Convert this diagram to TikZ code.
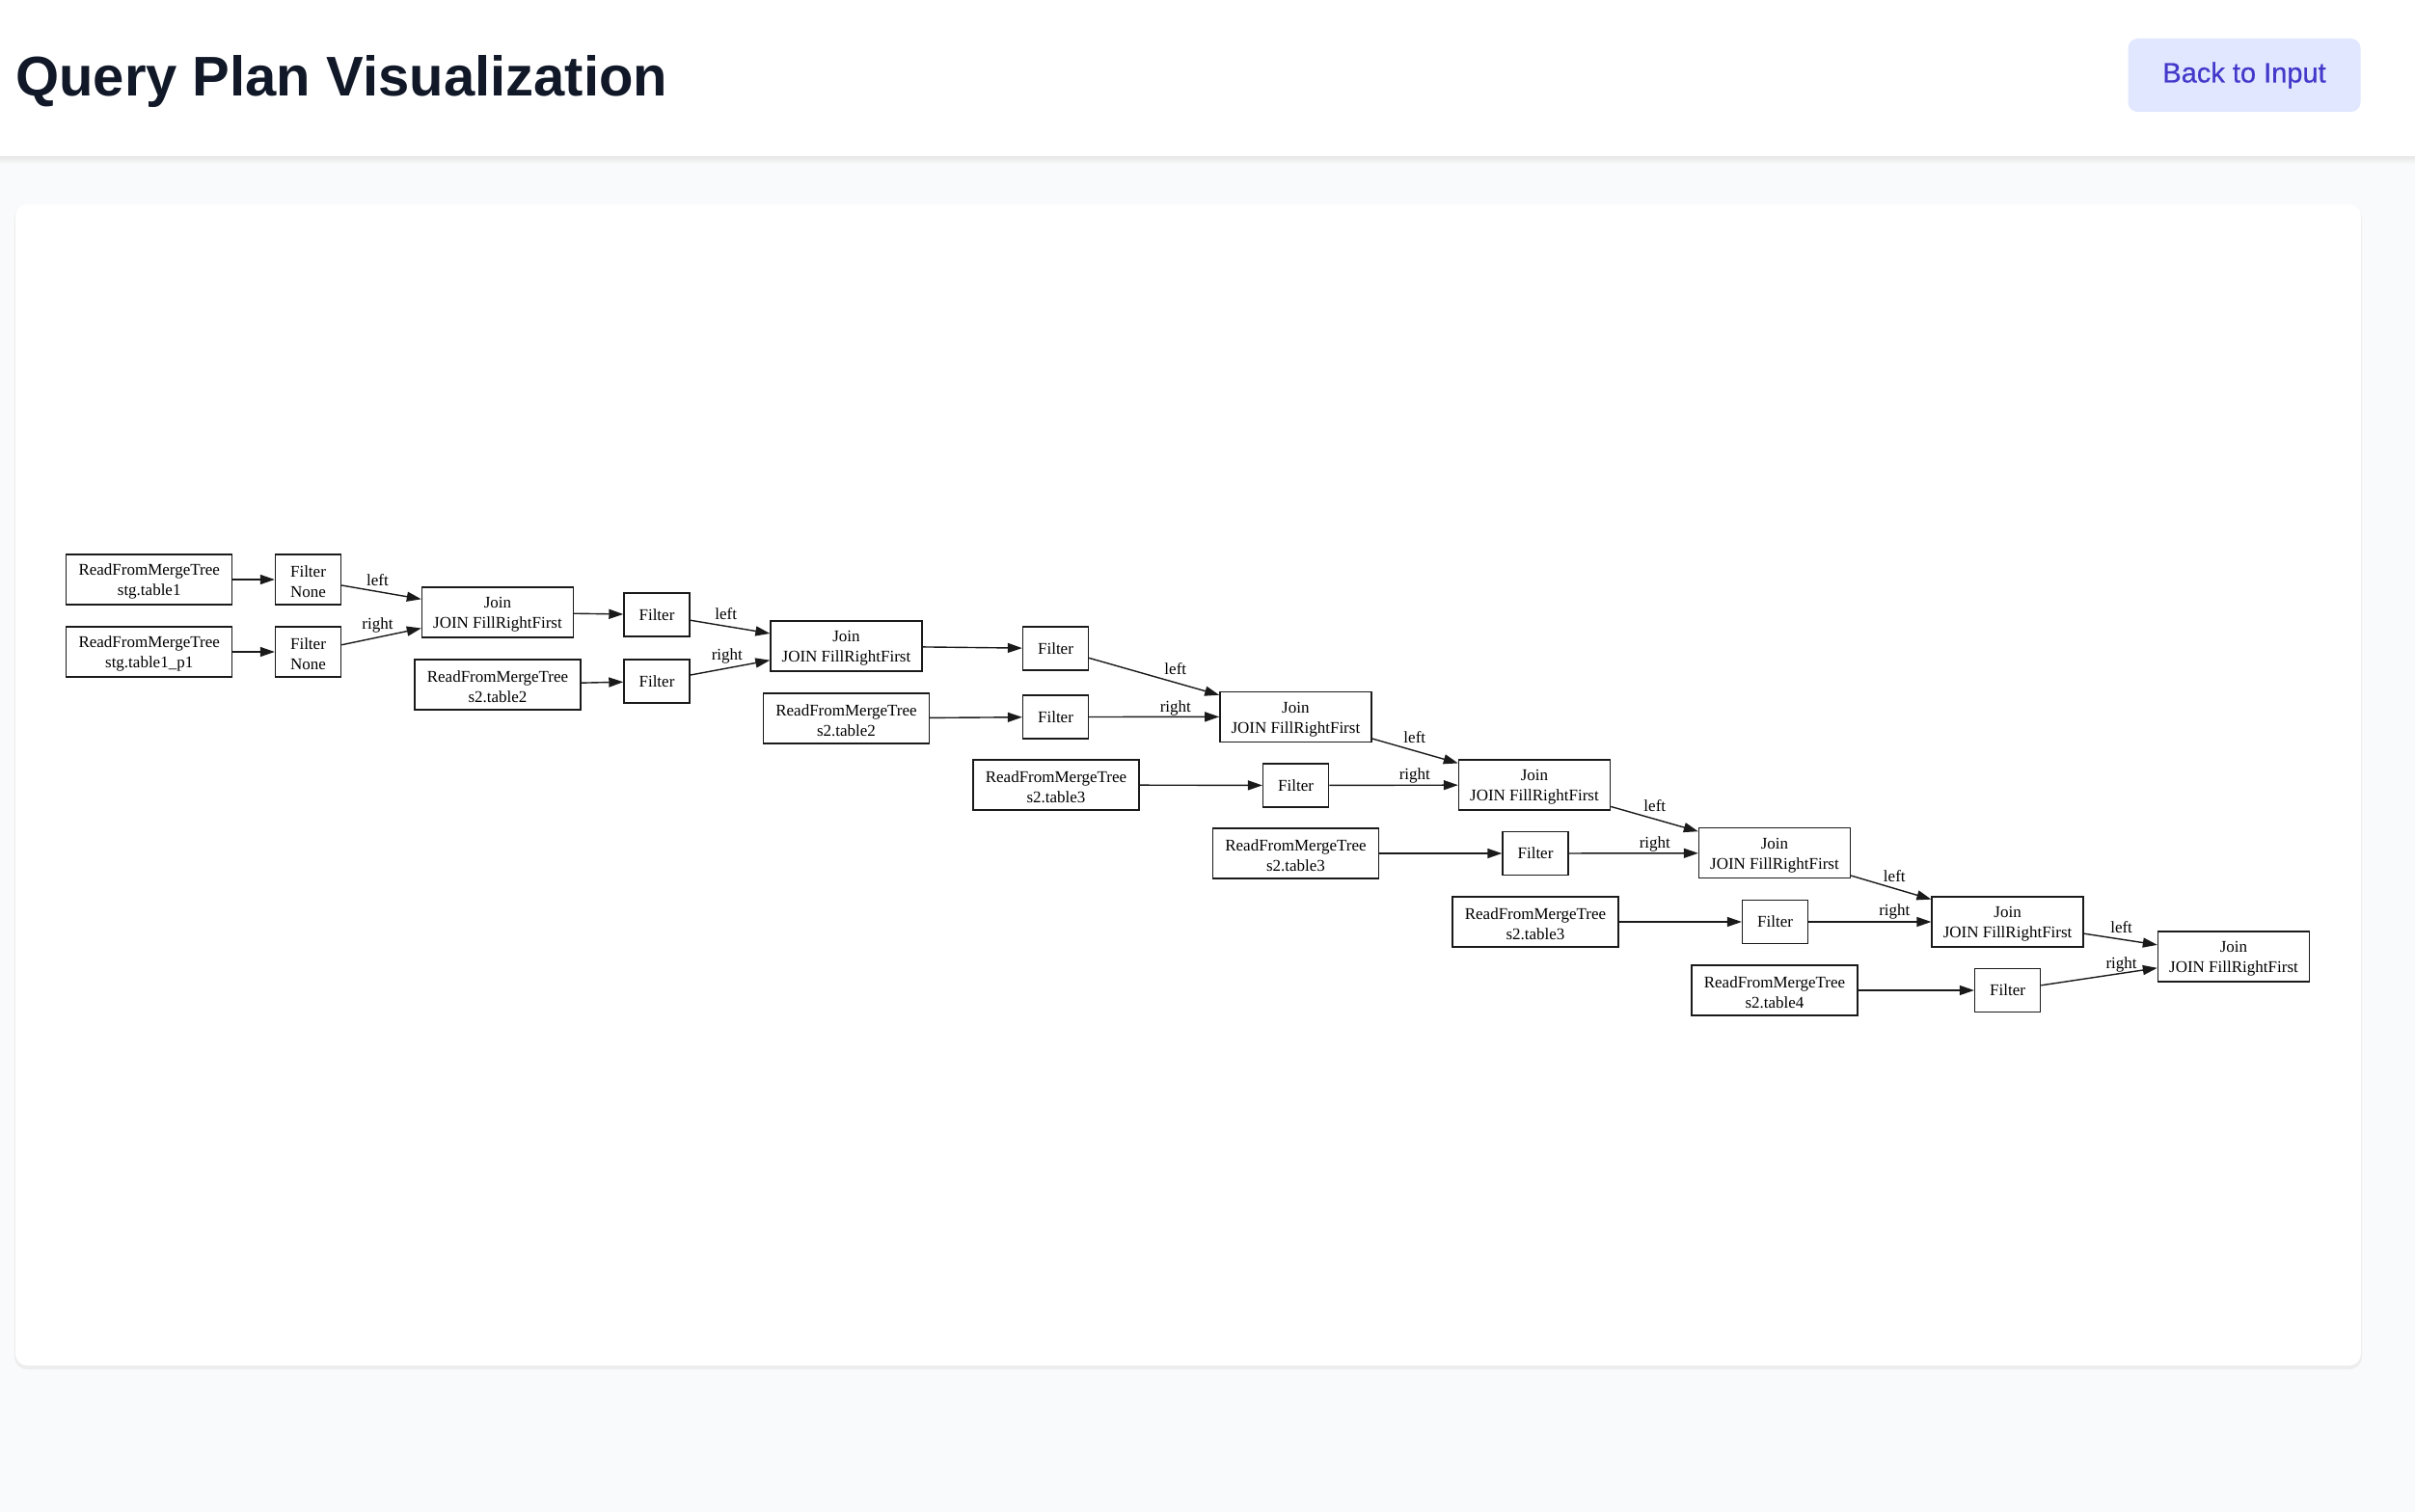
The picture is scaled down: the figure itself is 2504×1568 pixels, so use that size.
\documentclass[tikz,border=0pt]{standalone}
\usepackage{fontspec}
\setmainfont{Liberation Serif}
\newfontfamily\uisans{Liberation Sans}
\newfontfamily\uimed[FakeBold=0.6]{Liberation Sans}
\usetikzlibrary{arrows.meta}
\definecolor{pagebg}{HTML}{F9FAFB}
\definecolor{titlecol}{HTML}{111827}
\definecolor{btnbg}{HTML}{E0E7FF}
\definecolor{btntext}{HTML}{4338CA}
\definecolor{edgecol}{HTML}{1A1A1A}
\newcommand{\tl}{\rule{0pt}{16.5pt}}
\begin{document}
\begin{tikzpicture}[x=1pt,y=-1pt,
  box/.style={draw=edgecol, line width=1.4pt, inner sep=0pt, align=center,
    font=\fontsize{17}{21}\selectfont},
  readbox/.style={box, minimum width=172pt, minimum height=52pt},
  fltbox/.style={box, minimum width=68pt, minimum height=45pt},
  flttwo/.style={box, minimum width=68pt, minimum height=52pt},
  joinbox/.style={box, minimum width=157pt, minimum height=52pt},
  arr/.style={draw=edgecol, line width=1.4pt, -{Triangle[length=15pt,width=10pt]}},
  lbl/.style={font=\fontsize{17}{21}\selectfont, inner sep=0pt}
]
\useasboundingbox (0,0) rectangle (2504,1568);
\fill[pagebg] (0,0) rectangle (2504,1568);
% header
\fill[white] (0,0) rectangle (2504,163);
\shade[top color=black!9, bottom color=pagebg] (0,163) rectangle (2504,170);
\node[anchor=base west, inner sep=0pt, font=\uisans\bfseries\fontsize{58}{70}\selectfont, text=titlecol] (title) at (16,100) {Query Plan Visualization};
\node[fill=btnbg, rounded corners=10pt, minimum width=241pt, minimum height=76pt, inner sep=0pt,
      font=\uimed\fontsize{29}{35}\selectfont, text=btntext] (btn) at (2327,78) {Back to Input};
% card
\fill[black!7, rounded corners=13pt] (15,213) rectangle (2449,1420);
\fill[white, rounded corners=12pt] (16,212) rectangle (2448,1416);

% nodes
\node[readbox] (R1) at (154.7,601) {\tl ReadFromMergeTree\\stg.table1};
\node[flttwo]  (F1) at (319.5,601) {\tl Filter\\None};
\node[readbox] (R2) at (154.7,676) {\tl ReadFromMergeTree\\stg.table1\_p1};
\node[flttwo]  (F2) at (319.5,676) {\tl Filter\\None};
\node[joinbox] (J1) at (516,635) {\tl Join\\JOIN FillRightFirst};
\node[fltbox]  (F3) at (681,637.5) {Filter};
\node[readbox] (R3) at (516,710) {\tl ReadFromMergeTree\\s2.table2};
\node[fltbox]  (F4) at (681,706.5) {Filter};
\node[joinbox] (J2) at (877.5,670) {\tl Join\\JOIN FillRightFirst};
\node[fltbox]  (F5) at (1094.5,672.5) {Filter};
\node[readbox] (R4) at (877.5,745) {\tl ReadFromMergeTree\\s2.table2};
\node[fltbox]  (F6) at (1094.5,743.5) {Filter};
\node[joinbox] (J3) at (1343.4,743.3) {\tl Join\\JOIN FillRightFirst};
\node[readbox] (R5) at (1095,814) {\tl ReadFromMergeTree\\s2.table3};
\node[fltbox]  (F7) at (1343.6,814.5) {Filter};
\node[joinbox] (J4) at (1591,814) {\tl Join\\JOIN FillRightFirst};
\node[readbox] (R6) at (1343.5,885) {\tl ReadFromMergeTree\\s2.table3};
\node[fltbox]  (F8) at (1592,885) {Filter};
\node[joinbox] (J5) at (1840,884.7) {\tl Join\\JOIN FillRightFirst};
\node[readbox] (R7) at (1592,956) {\tl ReadFromMergeTree\\s2.table3};
\node[fltbox]  (F9) at (1840.6,956) {Filter};
\node[joinbox] (J6) at (2081.6,956) {\tl Join\\JOIN FillRightFirst};
\node[readbox] (R8) at (1840,1027) {\tl ReadFromMergeTree\\s2.table4};
\node[fltbox]  (F10) at (2081.6,1027) {Filter};
\node[joinbox] (J7) at (2316,992) {\tl Join\\JOIN FillRightFirst};

% edges
\draw[arr] (R1) -- (F1);
\draw[arr] (R2) -- (F2);
\draw[arr] (F1) -- (J1);
\draw[arr] (F2) -- (J1);
\draw[arr] (J1) -- (F3);
\draw[arr] (R3) -- (F4);
\draw[arr] (F3) -- (J2);
\draw[arr] (F4) -- (J2);
\draw[arr] (J2) -- (F5);
\draw[arr] (R4) -- (F6);
\draw[arr] (F5) -- (J3);
\draw[arr] (F6) -- (J3);
\draw[arr] (R5) -- (F7);
\draw[arr] (J3) -- (J4);
\draw[arr] (F7) -- (J4);
\draw[arr] (R6) -- (F8);
\draw[arr] (J4) -- (J5);
\draw[arr] (F8) -- (J5);
\draw[arr] (R7) -- (F9);
\draw[arr] (J5) -- (J6);
\draw[arr] (F9) -- (J6);
\draw[arr] (R8) -- (F10);
\draw[arr] (J6) -- (J7);
\draw[arr] (F10) -- (J7);

% edge labels
\node[lbl] (l1) at (391.5,602) {left};
\node[lbl] (r1) at (391.5,648) {right};
\node[lbl] (l2) at (752.7,636.7) {left};
\node[lbl] (r2) at (753.8,680.7) {right};
\node[lbl] (l3) at (1218.8,694) {left};
\node[lbl] (r3) at (1218.8,734) {right};
\node[lbl] (l4) at (1466.8,765) {left};
\node[lbl] (r4) at (1466.8,804) {right};
\node[lbl] (l5) at (1715.8,836) {left};
\node[lbl] (r5) at (1715.8,875) {right};
\node[lbl] (l6) at (1964.3,908.3) {left};
\node[lbl] (r6) at (1964.3,945.7) {right};
\node[lbl] (l7) at (2199.6,961.7) {left};
\node[lbl] (r7) at (2199.6,1000.7) {right};
\end{tikzpicture}
\end{document}
